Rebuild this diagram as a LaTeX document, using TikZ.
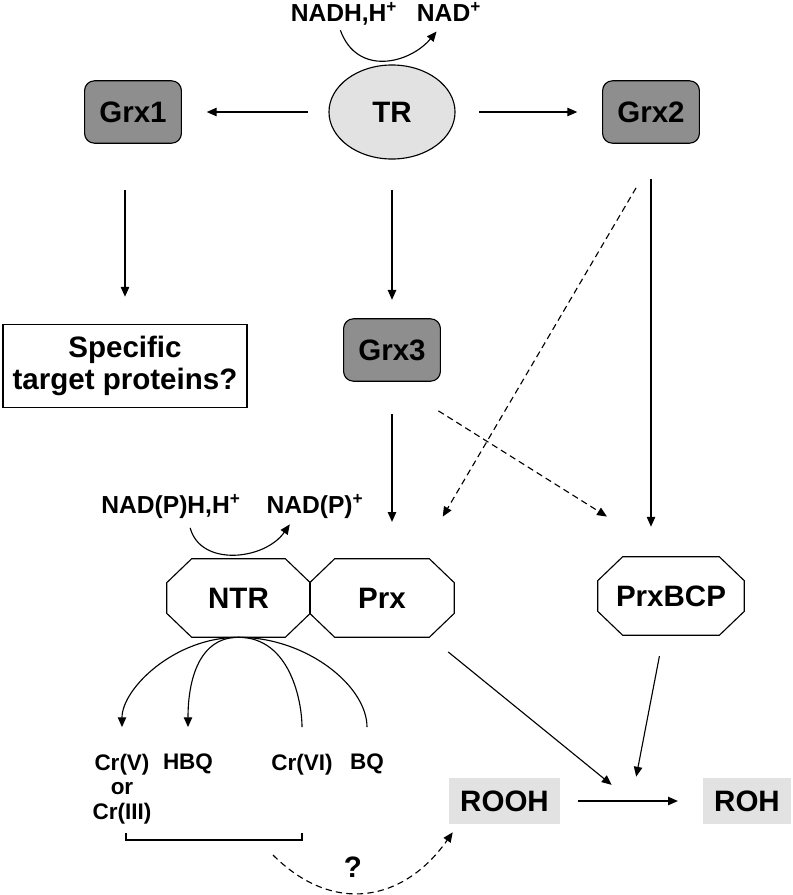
\documentclass[tikz,border=0pt]{standalone}
\usepackage{fontspec}
\setmainfont{Liberation Sans}
\usetikzlibrary{arrows.meta,shapes.geometric,calc}
\definecolor{grxgray}{RGB}{142,142,142}
\definecolor{trfill}{RGB}{226,226,226}
\definecolor{substfill}{RGB}{226,226,226}
% octagon round a rectangular node
\newcommand\octframe[1]{\draw[line width=0.8pt] ([shift={(25,0)}]#1.north west) -- ([shift={(-25,0)}]#1.north east) -- ([shift={(0,-24)}]#1.north east) -- ([shift={(0,24)}]#1.south east) -- ([shift={(-25,0)}]#1.south east) -- ([shift={(25,0)}]#1.south west) -- ([shift={(0,24)}]#1.south west) -- ([shift={(0,-24)}]#1.north west) -- cycle;}

\begin{document}
\begin{tikzpicture}[x=0.025cm, y=0.025cm,
	arr/.style={-{Triangle[length=7pt,width=6pt]}, line width=0.8pt},
	ln/.style={line width=0.8pt},
	dsh/.style={dash pattern=on 4.5pt off 3pt},
	big/.style={font=\fontsize{21}{22.7}\selectfont\bfseries},
	grx/.style={big, draw, fill=grxgray, rounded corners=7pt, minimum width=2.42cm, minimum height=1.56cm, line width=0.8pt},
	oct/.style={big, rectangle, minimum width=3.575cm, minimum height=1.95cm},
	subst/.style={big, fill=substfill, minimum height=1.15cm},
	cof/.style={anchor=base, inner sep=1pt, font=\fontsize{17.5}{21}\selectfont\bfseries},
	prod/.style={anchor=north, inner sep=0pt, align=center, font=\fontsize{16}{17.7}\selectfont\bfseries}]
	\useasboundingbox (0,0) rectangle (792,-895);

	\node[cof] (nadh) at (344,-21) {NADH,H\textsuperscript{+}};
	\node[cof] (nad) at (449,-21) {NAD\textsuperscript{+}};
	\node[big, draw, ellipse, fill=trfill, minimum width=3.15cm, minimum height=2.35cm, inner sep=0pt, line width=0.8pt] (TR) at (392,-112) {TR};
	\node[grx] (Grx1) at (133,-112) {Grx1};
	\node[grx] (Grx2) at (651,-112) {Grx2};
	\node[grx] (Grx3) at (392,-350) {Grx3};
	\node[big, draw, align=center, minimum width=6.1cm, minimum height=2.075cm, line width=0.8pt] (spec) at (125,-366) {Specific\\target proteins?};
	\node[cof] (nadph) at (171,-513) {NAD(P)H,H\textsuperscript{+}};
	\node[cof] (nadpp) at (315,-513) {NAD(P)\textsuperscript{+}};
	\node[oct] (NTR) at (238.5,-598) {NTR};
	\node[oct, minimum width=3.6cm] (Prx) at (382,-598) {Prx};
	\node[oct, minimum width=3.65cm] (PrxBCP) at (671,-596) {PrxBCP};
	\foreach \o in {NTR, Prx, PrxBCP}
	{	\octframe{\o}
	}
	\node[subst, minimum width=2.775cm] (ROOH) at (504.5,-801) {ROOH};
	\node[subst, minimum width=2.2cm] (ROH) at (747,-801) {ROH};
	\node[prod] (crv) at (122,-753.5) {Cr(V)\\or\\Cr(III)};
	\node[prod] (hbq) at (188,-753.5) {HBQ};
	\node[prod] (crvi) at (302,-753.5) {Cr(VI)};
	\node[prod] (bq) at (367,-753.5) {BQ};
	\node[big] (qm) at (353,-867) {?};
	\coordinate (mid) at ($(ROOH.east)!0.5!(ROH.west)$);
	\coordinate (qs) at (273,-855);

	% cofactors
	\draw[arr, shorten <=0.1cm, shorten >=0.29cm] ([shift={(-5,0)}]nadh.south) to[out=-70,in=-130,looseness=1.3] ([shift={(-5,0)}]nad.south);
	\draw[arr, shorten <=0.21cm, shorten >=0.14cm] ([shift={(17,0)}]nadph.south) to[out=-75,in=-125,looseness=1.2] ([shift={(-22,0)}]nadpp.south);

	\def\straight {TR.west/Grx1.east/0.52/0.62, TR.east/Grx2.west/0.58/0.62, TR.south/Grx3.north/0.75/0.46, ROOH.east/ROH.west/0.45/0.62}  % list elements
	\foreach \u/\v/\a/\b in \straight
	{	\draw[arr, shorten <=\a cm, shorten >=\b cm] (\u) -- (\v);
	}
	\draw[arr, shorten <=1.15cm, shorten >=0.68cm] (Grx1.south -| spec.north) -- (spec.north);
	\draw[arr, shorten <=0.8cm, shorten >=0.92cm] (Grx3.south) -- (Grx3.south |- Prx.north);
	\draw[arr, shorten <=0.88cm, shorten >=0.75cm] (Grx2.south) -- (Grx2.south |- PrxBCP.north);
	\draw[arr, dsh, shorten <=1.37cm, shorten >=1.89cm] (Grx3.south) -- (PrxBCP.north);
	\draw[arr, dsh, shorten <=1.28cm, shorten >=1.22cm] ([shift={(11,0)}]Grx2.south) -- ([shift={(36,0)}]Prx.north);
	\draw[arr, shorten <=0.58cm, shorten >=0.64cm] (Prx) -- (mid);
	\draw[arr, shorten <=0.53cm, shorten >=0.62cm] (PrxBCP) -- (mid);

	% NTR products
	\foreach \t in {crv, hbq}
	{	\draw[arr, shorten >=0.66cm] (NTR.south) to[out=180,in=90] (\t.north);
	}
	\foreach \t in {crvi, bq}
	{	\draw[ln, shorten >=0.66cm] (NTR.south) to[out=0,in=90] (\t.north);
	}
	\draw[ln] (126,-833) -- (126,-840) -- (302,-840) -- (302,-833);
	\draw[arr, dsh] (qs) to[out=-45,in=-125,looseness=1.2] ([shift={(4,-8)}]ROOH.south west);
\end{tikzpicture}
\end{document}
